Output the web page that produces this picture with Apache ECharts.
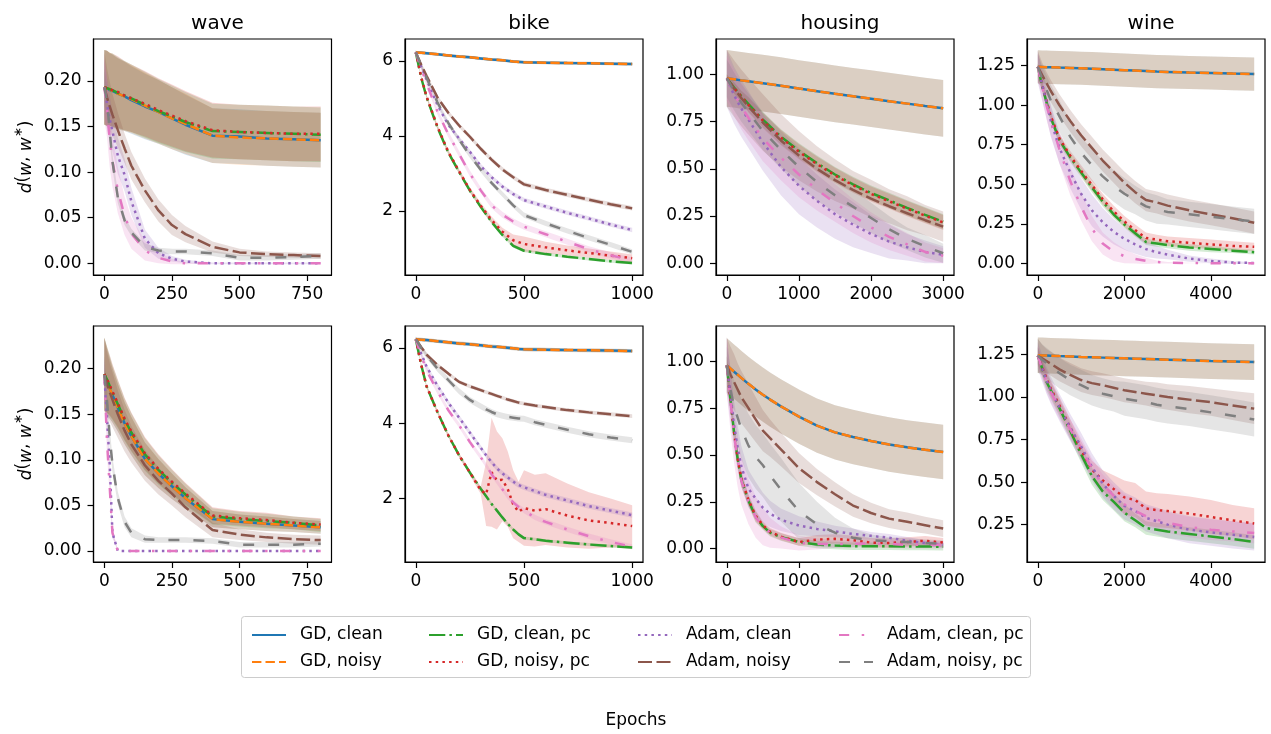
<!DOCTYPE html>
<html>
<head>
<meta charset="utf-8">
<script src="https://cdn.jsdelivr.net/npm/echarts@6.0.0/dist/echarts.min.js"></script>
<style>
html, body { margin: 0; background: #fff; }
#chart { width: 1271px; height: 734px; }
</style>
</head>
<body>
<div id="chart"></div>
<script>
// series order in every mean/sd table below
const seriesNames = ["GD, clean", "GD, noisy", "GD, clean, pc", "GD, noisy, pc",
    "Adam, clean", "Adam, noisy", "Adam, clean, pc", "Adam, noisy, pc"];
const panelTitles = ["wave", "bike", "housing", "wine"];

// ---- wave ----
const waveX = [0, 10, 20, 30, 50, 75, 100, 150, 200, 250, 300, 400, 500, 600, 700, 800];
const waveMeanTop = [
    [0.193, 0.192, 0.190, 0.189, 0.186, 0.183, 0.179, 0.172, 0.166, 0.159, 0.152, 0.140, 0.139, 0.137, 0.136, 0.135],
    [0.193, 0.192, 0.191, 0.189, 0.186, 0.183, 0.180, 0.173, 0.166, 0.159, 0.153, 0.140, 0.138, 0.137, 0.136, 0.135],
    [0.193, 0.192, 0.191, 0.190, 0.187, 0.184, 0.181, 0.174, 0.167, 0.161, 0.155, 0.145, 0.144, 0.143, 0.142, 0.141],
    [0.193, 0.192, 0.191, 0.190, 0.188, 0.184, 0.181, 0.175, 0.168, 0.162, 0.156, 0.146, 0.144, 0.143, 0.142, 0.142],
    [0.193, 0.175, 0.158, 0.145, 0.118, 0.097, 0.068, 0.027, 0.011, 0.005, 0.002, 0, 0, 0, 0, 0],
    [0.193, 0.182, 0.172, 0.163, 0.146, 0.126, 0.107, 0.080, 0.058, 0.042, 0.032, 0.018, 0.012, 0.010, 0.009, 0.008],
    [0.193, 0.170, 0.135, 0.112, 0.080, 0.052, 0.033, 0.014, 0.006, 0.002, 0, 0, 0, 0, 0, 0],
    [0.193, 0.178, 0.145, 0.112, 0.072, 0.047, 0.034, 0.018, 0.014, 0.013, 0.013, 0.011, 0.006, 0.006, 0.007, 0.008],
];
const waveSdTop = [
    [0.041, 0.041, 0.040, 0.040, 0.039, 0.038, 0.037, 0.036, 0.035, 0.034, 0.033, 0.030, 0.030, 0.030, 0.030, 0.030],
    [0.041, 0.041, 0.040, 0.040, 0.039, 0.038, 0.037, 0.036, 0.035, 0.034, 0.033, 0.030, 0.030, 0.030, 0.030, 0.030],
    [0.041, 0.041, 0.040, 0.040, 0.039, 0.038, 0.037, 0.036, 0.035, 0.034, 0.033, 0.030, 0.030, 0.030, 0.030, 0.030],
    [0.041, 0.041, 0.040, 0.040, 0.039, 0.038, 0.037, 0.036, 0.035, 0.034, 0.033, 0.030, 0.030, 0.030, 0.030, 0.030],
    [0.030, 0.028, 0.025, 0.022, 0.020, 0.018, 0.015, 0.010, 0.006, 0.003, 0.002, 0.001, 0.001, 0.001, 0.001, 0.001],
    [0.040, 0.032, 0.027, 0.023, 0.019, 0.016, 0.015, 0.013, 0.012, 0.011, 0.009, 0.006, 0.004, 0.003, 0.003, 0.003],
    [0.035, 0.032, 0.030, 0.028, 0.025, 0.021, 0.017, 0.011, 0.006, 0.003, 0.001, 0, 0, 0, 0, 0],
    [0.020, 0.015, 0.010, 0.008, 0.006, 0.005, 0.004, 0.004, 0.003, 0.003, 0.003, 0.003, 0.003, 0.003, 0.003, 0.003],
];
const waveMeanBottom = [
    [0.194, 0.186, 0.178, 0.171, 0.157, 0.140, 0.126, 0.101, 0.085, 0.071, 0.058, 0.035, 0.032, 0.030, 0.028, 0.026],
    [0.194, 0.186, 0.178, 0.171, 0.157, 0.140, 0.126, 0.101, 0.085, 0.071, 0.058, 0.035, 0.032, 0.030, 0.028, 0.026],
    [0.194, 0.188, 0.181, 0.174, 0.161, 0.144, 0.130, 0.106, 0.089, 0.075, 0.062, 0.038, 0.035, 0.033, 0.031, 0.028],
    [0.194, 0.188, 0.182, 0.175, 0.162, 0.145, 0.131, 0.107, 0.090, 0.076, 0.063, 0.039, 0.036, 0.034, 0.031, 0.029],
    [0.193, 0.145, 0.095, 0.020, 0, 0, 0, 0, 0, 0, 0, 0, 0, 0, 0, 0],
    [0.193, 0.183, 0.174, 0.166, 0.150, 0.132, 0.117, 0.094, 0.077, 0.063, 0.048, 0.023, 0.018, 0.015, 0.013, 0.012],
    [0.193, 0.120, 0.070, 0.020, 0, 0, 0, 0, 0, 0, 0, 0, 0, 0, 0, 0],
    [0.193, 0.165, 0.125, 0.095, 0.058, 0.032, 0.020, 0.013, 0.012, 0.012, 0.012, 0.011, 0.007, 0.007, 0.007, 0.008],
];
const waveSdBottom = [
    [0.040, 0.036, 0.033, 0.030, 0.026, 0.023, 0.021, 0.018, 0.016, 0.014, 0.012, 0.009, 0.008, 0.008, 0.007, 0.007],
    [0.040, 0.036, 0.033, 0.030, 0.026, 0.023, 0.021, 0.018, 0.016, 0.014, 0.012, 0.009, 0.008, 0.008, 0.007, 0.007],
    [0.040, 0.036, 0.033, 0.030, 0.026, 0.023, 0.021, 0.018, 0.016, 0.014, 0.012, 0.009, 0.008, 0.008, 0.007, 0.007],
    [0.040, 0.036, 0.033, 0.030, 0.026, 0.023, 0.021, 0.018, 0.016, 0.014, 0.012, 0.009, 0.008, 0.008, 0.007, 0.007],
    [0.020, 0.015, 0.010, 0.005, 0, 0, 0, 0, 0, 0, 0, 0, 0, 0, 0, 0],
    [0.040, 0.035, 0.032, 0.030, 0.026, 0.023, 0.020, 0.017, 0.015, 0.013, 0.011, 0.008, 0.006, 0.005, 0.005, 0.005],
    [0.020, 0.015, 0.010, 0.005, 0, 0, 0, 0, 0, 0, 0, 0, 0, 0, 0, 0],
    [0.020, 0.012, 0.010, 0.008, 0.007, 0.006, 0.005, 0.004, 0.003, 0.003, 0.003, 0.003, 0.003, 0.003, 0.003, 0.003],
];

// ---- bike ----
const bikeXTop = [0, 25, 50, 100, 150, 200, 250, 300, 350, 400, 450, 500, 600, 700, 800, 900, 1000];
const bikeMeanTop = [
    [6.23, 6.22, 6.21, 6.18, 6.15, 6.12, 6.10, 6.07, 6.04, 6.02, 5.99, 5.965, 5.955, 5.945, 5.94, 5.93, 5.92],
    [6.23, 6.22, 6.21, 6.18, 6.15, 6.12, 6.10, 6.07, 6.04, 6.02, 5.99, 5.965, 5.955, 5.945, 5.94, 5.93, 5.92],
    [6.23, 5.55, 5.03, 4.23, 3.56, 3.04, 2.54, 2.11, 1.71, 1.36, 1.07, 0.94, 0.85, 0.78, 0.72, 0.66, 0.61],
    [6.23, 5.57, 5.05, 4.25, 3.58, 3.06, 2.56, 2.14, 1.76, 1.45, 1.22, 1.12, 1.03, 0.95, 0.88, 0.81, 0.74],
    [6.23, 5.85, 5.50, 4.83, 4.30, 3.93, 3.58, 3.20, 2.90, 2.65, 2.45, 2.29, 2.12, 1.95, 1.80, 1.64, 1.49],
    [6.23, 5.90, 5.60, 5.03, 4.62, 4.28, 3.98, 3.66, 3.37, 3.11, 2.90, 2.71, 2.56, 2.43, 2.30, 2.18, 2.07],
    [6.23, 5.80, 5.40, 4.65, 4.05, 3.52, 3.00, 2.55, 2.15, 1.90, 1.72, 1.58, 1.38, 1.18, 0.98, 0.82, 0.68],
    [6.23, 5.88, 5.55, 4.90, 4.35, 3.90, 3.48, 3.10, 2.75, 2.45, 2.15, 1.89, 1.67, 1.47, 1.28, 1.10, 0.91],
];
const bikeSdTop = [
    [0.04, 0.04, 0.04, 0.04, 0.04, 0.04, 0.04, 0.04, 0.04, 0.04, 0.04, 0.04, 0.04, 0.04, 0.04, 0.04, 0.04],
    [0.04, 0.04, 0.04, 0.04, 0.04, 0.04, 0.04, 0.04, 0.04, 0.04, 0.04, 0.04, 0.04, 0.04, 0.04, 0.04, 0.04],
    [0.02, 0.03, 0.04, 0.05, 0.05, 0.05, 0.05, 0.05, 0.05, 0.05, 0.05, 0.04, 0.04, 0.04, 0.04, 0.04, 0.04],
    [0.02, 0.04, 0.05, 0.06, 0.06, 0.06, 0.07, 0.08, 0.09, 0.10, 0.15, 0.20, 0.15, 0.13, 0.12, 0.11, 0.10],
    [0.06, 0.06, 0.06, 0.06, 0.06, 0.06, 0.06, 0.06, 0.06, 0.06, 0.06, 0.06, 0.06, 0.06, 0.06, 0.06, 0.06],
    [0.06, 0.06, 0.06, 0.06, 0.06, 0.06, 0.06, 0.06, 0.06, 0.06, 0.06, 0.06, 0.06, 0.06, 0.06, 0.06, 0.06],
    [0.02, 0.05, 0.07, 0.08, 0.08, 0.08, 0.08, 0.08, 0.08, 0.08, 0.08, 0.08, 0.08, 0.08, 0.08, 0.08, 0.08],
    [0.07, 0.07, 0.07, 0.07, 0.07, 0.07, 0.07, 0.07, 0.07, 0.07, 0.07, 0.07, 0.07, 0.07, 0.07, 0.07, 0.07],
];
const bikeXBottom = [0, 25, 50, 100, 150, 200, 250, 300, 325, 350, 375, 400, 425, 450, 475, 500, 550, 600, 700, 800, 900, 1000];
const bikeMeanBottom = [
    [6.23, 6.22, 6.21, 6.18, 6.15, 6.12, 6.10, 6.07, 6.055, 6.04, 6.03, 6.02, 6.005, 5.99, 5.975, 5.965, 5.96, 5.955, 5.945, 5.94, 5.93, 5.92],
    [6.23, 6.22, 6.21, 6.18, 6.15, 6.12, 6.10, 6.07, 6.055, 6.04, 6.03, 6.02, 6.005, 5.99, 5.975, 5.965, 5.96, 5.955, 5.945, 5.94, 5.93, 5.92],
    [6.23, 5.55, 4.98, 4.30, 3.68, 3.15, 2.69, 2.26, 2.06, 1.86, 1.68, 1.50, 1.33, 1.18, 1.05, 0.95, 0.92, 0.88, 0.83, 0.78, 0.74, 0.70],
    [6.23, 5.55, 4.98, 4.30, 3.68, 3.15, 2.69, 2.22, 2.12, 2.70, 2.48, 2.50, 2.25, 1.85, 1.65, 1.75, 1.68, 1.72, 1.55, 1.42, 1.35, 1.27],
    [6.23, 5.85, 5.50, 5.00, 4.55, 4.15, 3.75, 3.35, 3.15, 2.97, 2.80, 2.67, 2.56, 2.45, 2.36, 2.30, 2.20, 2.10, 1.95, 1.80, 1.68, 1.56],
    [6.23, 6.02, 5.82, 5.55, 5.32, 5.10, 4.98, 4.88, 4.83, 4.78, 4.73, 4.68, 4.63, 4.59, 4.55, 4.52, 4.47, 4.43, 4.35, 4.29, 4.24, 4.19],
    [6.23, 5.80, 5.40, 4.85, 4.35, 3.95, 3.50, 3.10, 2.88, 2.65, 2.45, 2.25, 2.05, 1.90, 1.78, 1.68, 1.50, 1.38, 1.18, 1.00, 0.85, 0.72],
    [6.23, 6.00, 5.80, 5.45, 5.15, 4.85, 4.62, 4.45, 4.37, 4.30, 4.24, 4.20, 4.17, 4.15, 4.13, 4.12, 4.03, 3.96, 3.83, 3.71, 3.62, 3.55],
];
const bikeSdBottom = [
    [0.05, 0.05, 0.05, 0.05, 0.05, 0.05, 0.05, 0.05, 0.05, 0.05, 0.05, 0.05, 0.05, 0.05, 0.05, 0.05, 0.05, 0.05, 0.05, 0.05, 0.05, 0.05],
    [0.05, 0.05, 0.05, 0.05, 0.05, 0.05, 0.05, 0.05, 0.05, 0.05, 0.05, 0.05, 0.05, 0.05, 0.05, 0.05, 0.05, 0.05, 0.05, 0.05, 0.05, 0.05],
    [0.04, 0.04, 0.04, 0.04, 0.04, 0.04, 0.04, 0.04, 0.04, 0.04, 0.04, 0.04, 0.04, 0.04, 0.04, 0.04, 0.04, 0.04, 0.04, 0.04, 0.04, 0.04],
    [0.02, 0.03, 0.04, 0.05, 0.05, 0.06, 0.07, 0.10, 0.85, 1.45, 1.30, 1.10, 1.00, 0.90, 0.80, 1.00, 0.95, 0.95, 0.85, 0.75, 0.65, 0.55],
    [0.07, 0.07, 0.07, 0.07, 0.07, 0.07, 0.07, 0.07, 0.07, 0.07, 0.07, 0.07, 0.07, 0.07, 0.07, 0.07, 0.07, 0.07, 0.07, 0.07, 0.07, 0.07],
    [0.05, 0.05, 0.05, 0.05, 0.05, 0.05, 0.05, 0.05, 0.05, 0.05, 0.05, 0.05, 0.05, 0.05, 0.05, 0.05, 0.05, 0.05, 0.05, 0.05, 0.05, 0.05],
    [0.07, 0.07, 0.07, 0.07, 0.07, 0.07, 0.07, 0.07, 0.07, 0.07, 0.07, 0.07, 0.07, 0.07, 0.07, 0.07, 0.07, 0.07, 0.07, 0.07, 0.07, 0.07],
    [0.08, 0.08, 0.08, 0.08, 0.08, 0.08, 0.08, 0.08, 0.08, 0.08, 0.08, 0.08, 0.08, 0.08, 0.08, 0.08, 0.08, 0.08, 0.08, 0.08, 0.08, 0.08],
];

// ---- housing ----
const housingXTop = [0, 100, 200, 300, 500, 750, 1000, 1250, 1500, 1750, 2000, 2250, 2500, 2750, 3000];
const housingMeanTop = [
    [0.979, 0.974, 0.968, 0.963, 0.953, 0.940, 0.925, 0.911, 0.897, 0.884, 0.871, 0.858, 0.845, 0.832, 0.820],
    [0.979, 0.974, 0.968, 0.963, 0.953, 0.940, 0.925, 0.911, 0.897, 0.884, 0.871, 0.858, 0.845, 0.832, 0.820],
    [0.979, 0.930, 0.885, 0.842, 0.760, 0.670, 0.595, 0.530, 0.470, 0.418, 0.372, 0.333, 0.293, 0.256, 0.220],
    [0.979, 0.928, 0.882, 0.838, 0.755, 0.665, 0.590, 0.525, 0.465, 0.413, 0.367, 0.328, 0.289, 0.252, 0.216],
    [0.979, 0.890, 0.820, 0.760, 0.640, 0.510, 0.410, 0.330, 0.260, 0.205, 0.155, 0.115, 0.085, 0.060, 0.045],
    [0.979, 0.925, 0.875, 0.830, 0.745, 0.650, 0.570, 0.500, 0.440, 0.388, 0.342, 0.302, 0.265, 0.228, 0.194],
    [0.979, 0.900, 0.830, 0.770, 0.660, 0.560, 0.470, 0.390, 0.320, 0.250, 0.190, 0.140, 0.100, 0.060, 0.040],
    [0.979, 0.910, 0.850, 0.800, 0.700, 0.600, 0.510, 0.430, 0.360, 0.300, 0.240, 0.180, 0.130, 0.090, 0.053],
];
const housingSdTop = [
    [0.15, 0.15, 0.15, 0.15, 0.15, 0.15, 0.15, 0.15, 0.15, 0.15, 0.15, 0.15, 0.15, 0.15, 0.15],
    [0.15, 0.15, 0.15, 0.15, 0.15, 0.15, 0.15, 0.15, 0.15, 0.15, 0.15, 0.15, 0.15, 0.15, 0.15],
    [0.02, 0.03, 0.03, 0.04, 0.04, 0.04, 0.04, 0.04, 0.04, 0.04, 0.04, 0.04, 0.04, 0.04, 0.04],
    [0.02, 0.03, 0.03, 0.04, 0.04, 0.04, 0.04, 0.04, 0.04, 0.04, 0.04, 0.04, 0.04, 0.04, 0.04],
    [0.15, 0.15, 0.15, 0.15, 0.15, 0.15, 0.15, 0.14, 0.13, 0.12, 0.10, 0.09, 0.07, 0.06, 0.045],
    [0.15, 0.15, 0.15, 0.15, 0.15, 0.14, 0.13, 0.12, 0.11, 0.10, 0.10, 0.09, 0.09, 0.08, 0.08],
    [0.12, 0.12, 0.12, 0.12, 0.12, 0.12, 0.12, 0.11, 0.10, 0.09, 0.08, 0.07, 0.06, 0.05, 0.04],
    [0.10, 0.10, 0.10, 0.10, 0.10, 0.10, 0.10, 0.10, 0.09, 0.09, 0.08, 0.07, 0.06, 0.06, 0.05],
];
const housingXBottom = [0, 50, 100, 150, 200, 300, 400, 500, 600, 750, 1000, 1250, 1500, 1750, 2000, 2250, 2500, 2750, 3000];
const housingMeanBottom = [
    [0.979, 0.962, 0.945, 0.929, 0.912, 0.880, 0.850, 0.822, 0.796, 0.760, 0.705, 0.657, 0.621, 0.596, 0.575, 0.556, 0.541, 0.528, 0.516],
    [0.979, 0.962, 0.945, 0.929, 0.912, 0.880, 0.850, 0.822, 0.796, 0.760, 0.705, 0.657, 0.621, 0.596, 0.575, 0.556, 0.541, 0.528, 0.516],
    [0.979, 0.800, 0.620, 0.480, 0.370, 0.255, 0.170, 0.120, 0.085, 0.062, 0.035, 0.022, 0.016, 0.013, 0.012, 0.012, 0.011, 0.011, 0.010],
    [0.979, 0.800, 0.625, 0.485, 0.375, 0.260, 0.175, 0.125, 0.090, 0.064, 0.035, 0.048, 0.052, 0.045, 0.032, 0.030, 0.035, 0.042, 0.032],
    [0.979, 0.820, 0.660, 0.540, 0.440, 0.320, 0.267, 0.218, 0.186, 0.154, 0.123, 0.105, 0.092, 0.078, 0.068, 0.058, 0.042, 0.030, 0.020],
    [0.979, 0.930, 0.890, 0.850, 0.810, 0.750, 0.690, 0.630, 0.590, 0.530, 0.430, 0.355, 0.290, 0.230, 0.190, 0.160, 0.143, 0.125, 0.107],
    [0.979, 0.790, 0.610, 0.470, 0.365, 0.250, 0.168, 0.118, 0.085, 0.060, 0.030, 0.025, 0.025, 0.025, 0.028, 0.025, 0.020, 0.020, 0.020],
    [0.979, 0.850, 0.760, 0.700, 0.640, 0.550, 0.490, 0.445, 0.390, 0.315, 0.200, 0.130, 0.085, 0.058, 0.045, 0.040, 0.035, 0.030, 0.025],
];
const housingSdBottom = [
    [0.145, 0.145, 0.145, 0.145, 0.145, 0.145, 0.145, 0.145, 0.145, 0.145, 0.145, 0.145, 0.145, 0.145, 0.145, 0.145, 0.145, 0.145, 0.145],
    [0.145, 0.145, 0.145, 0.145, 0.145, 0.145, 0.145, 0.145, 0.145, 0.145, 0.145, 0.145, 0.145, 0.145, 0.145, 0.145, 0.145, 0.145, 0.145],
    [0.05, 0.05, 0.05, 0.05, 0.04, 0.03, 0.03, 0.02, 0.02, 0.02, 0.02, 0.02, 0.02, 0.02, 0.02, 0.02, 0.02, 0.02, 0.02],
    [0.05, 0.05, 0.05, 0.05, 0.04, 0.03, 0.03, 0.02, 0.02, 0.02, 0.02, 0.025, 0.025, 0.025, 0.025, 0.025, 0.025, 0.025, 0.025],
    [0.15, 0.14, 0.13, 0.12, 0.11, 0.10, 0.09, 0.08, 0.07, 0.06, 0.05, 0.04, 0.03, 0.03, 0.02, 0.02, 0.02, 0.015, 0.015],
    [0.15, 0.15, 0.15, 0.14, 0.14, 0.13, 0.12, 0.11, 0.10, 0.09, 0.08, 0.07, 0.065, 0.06, 0.055, 0.05, 0.05, 0.045, 0.045],
    [0.15, 0.16, 0.15, 0.14, 0.13, 0.12, 0.11, 0.10, 0.08, 0.06, 0.04, 0.03, 0.02, 0.02, 0.02, 0.02, 0.02, 0.02, 0.02],
    [0.10, 0.12, 0.14, 0.15, 0.16, 0.17, 0.17, 0.17, 0.17, 0.17, 0.15, 0.12, 0.08, 0.05, 0.03, 0.02, 0.02, 0.02, 0.02],
];

// ---- wine ----
const wineX = [0, 100, 200, 300, 500, 750, 1000, 1250, 1500, 1750, 2000, 2250, 2500, 2750, 3000, 3500, 4000, 4500, 5000];
const wineMeanTop = [
    [1.243, 1.242, 1.241, 1.240, 1.238, 1.236, 1.234, 1.231, 1.228, 1.225, 1.222, 1.219, 1.216, 1.213, 1.211, 1.207, 1.204, 1.200, 1.197],
    [1.243, 1.242, 1.241, 1.240, 1.238, 1.236, 1.234, 1.231, 1.228, 1.225, 1.222, 1.219, 1.216, 1.213, 1.211, 1.207, 1.204, 1.200, 1.197],
    [1.243, 1.120, 1.020, 0.920, 0.780, 0.670, 0.575, 0.480, 0.390, 0.310, 0.245, 0.190, 0.135, 0.125, 0.115, 0.100, 0.090, 0.080, 0.070],
    [1.243, 1.130, 1.030, 0.930, 0.790, 0.680, 0.585, 0.495, 0.405, 0.330, 0.265, 0.210, 0.160, 0.150, 0.140, 0.130, 0.120, 0.110, 0.105],
    [1.243, 1.130, 1.020, 0.900, 0.730, 0.575, 0.440, 0.335, 0.260, 0.200, 0.155, 0.120, 0.090, 0.070, 0.055, 0.030, 0.015, 0.005, 0.002],
    [1.243, 1.190, 1.140, 1.090, 1.000, 0.900, 0.810, 0.730, 0.650, 0.580, 0.510, 0.450, 0.400, 0.385, 0.365, 0.335, 0.310, 0.285, 0.257],
    [1.243, 1.120, 1.000, 0.900, 0.720, 0.520, 0.360, 0.220, 0.125, 0.075, 0.045, 0.028, 0.015, 0.008, 0.004, 0.002, 0, 0, 0],
    [1.243, 1.170, 1.100, 1.030, 0.930, 0.800, 0.700, 0.620, 0.550, 0.490, 0.440, 0.400, 0.360, 0.340, 0.325, 0.310, 0.295, 0.280, 0.265],
];
const wineSdTop = [
    [0.105, 0.105, 0.105, 0.105, 0.105, 0.105, 0.105, 0.105, 0.105, 0.105, 0.105, 0.105, 0.105, 0.105, 0.105, 0.105, 0.105, 0.105, 0.105],
    [0.105, 0.105, 0.105, 0.105, 0.105, 0.105, 0.105, 0.105, 0.105, 0.105, 0.105, 0.105, 0.105, 0.105, 0.105, 0.105, 0.105, 0.105, 0.105],
    [0.02, 0.03, 0.03, 0.03, 0.03, 0.03, 0.03, 0.03, 0.03, 0.025, 0.02, 0.02, 0.02, 0.02, 0.02, 0.02, 0.02, 0.015, 0.015],
    [0.02, 0.03, 0.03, 0.03, 0.03, 0.03, 0.035, 0.035, 0.035, 0.035, 0.035, 0.035, 0.035, 0.03, 0.03, 0.03, 0.03, 0.03, 0.025],
    [0.10, 0.10, 0.10, 0.10, 0.10, 0.10, 0.10, 0.10, 0.09, 0.08, 0.07, 0.06, 0.05, 0.04, 0.03, 0.02, 0.015, 0.01, 0.005],
    [0.10, 0.08, 0.07, 0.07, 0.07, 0.07, 0.07, 0.07, 0.07, 0.07, 0.07, 0.07, 0.07, 0.07, 0.07, 0.07, 0.07, 0.07, 0.07],
    [0.08, 0.08, 0.09, 0.09, 0.09, 0.09, 0.09, 0.08, 0.07, 0.06, 0.045, 0.03, 0.02, 0.01, 0.005, 0.002, 0, 0, 0],
    [0.08, 0.08, 0.09, 0.10, 0.10, 0.10, 0.10, 0.10, 0.10, 0.10, 0.10, 0.09, 0.09, 0.09, 0.08, 0.08, 0.08, 0.08, 0.08],
];
const wineMeanBottom = [
    [1.246, 1.245, 1.244, 1.243, 1.241, 1.239, 1.236, 1.234, 1.232, 1.230, 1.228, 1.226, 1.224, 1.222, 1.220, 1.216, 1.212, 1.209, 1.206],
    [1.246, 1.245, 1.244, 1.243, 1.241, 1.239, 1.236, 1.234, 1.232, 1.230, 1.228, 1.226, 1.224, 1.222, 1.220, 1.216, 1.212, 1.209, 1.206],
    [1.243, 1.170, 1.090, 1.040, 0.935, 0.800, 0.665, 0.535, 0.445, 0.385, 0.320, 0.275, 0.230, 0.220, 0.210, 0.195, 0.180, 0.165, 0.148],
    [1.243, 1.175, 1.110, 1.050, 0.950, 0.820, 0.690, 0.575, 0.510, 0.460, 0.410, 0.395, 0.345, 0.335, 0.330, 0.315, 0.295, 0.275, 0.256],
    [1.243, 1.170, 1.100, 1.040, 0.940, 0.820, 0.710, 0.590, 0.490, 0.420, 0.360, 0.330, 0.290, 0.270, 0.250, 0.220, 0.205, 0.190, 0.177],
    [1.243, 1.228, 1.212, 1.196, 1.163, 1.130, 1.100, 1.082, 1.070, 1.055, 1.040, 1.030, 1.020, 1.010, 1.000, 0.985, 0.970, 0.950, 0.932],
    [1.243, 1.165, 1.090, 1.030, 0.930, 0.810, 0.700, 0.580, 0.485, 0.420, 0.370, 0.330, 0.300, 0.280, 0.260, 0.235, 0.220, 0.210, 0.200],
    [1.243, 1.220, 1.200, 1.180, 1.140, 1.100, 1.070, 1.040, 1.020, 1.005, 0.990, 0.980, 0.970, 0.955, 0.945, 0.930, 0.910, 0.890, 0.868],
];
const wineSdBottom = [
    [0.105, 0.105, 0.105, 0.105, 0.105, 0.105, 0.105, 0.105, 0.105, 0.105, 0.105, 0.105, 0.105, 0.105, 0.105, 0.105, 0.105, 0.105, 0.105],
    [0.105, 0.105, 0.105, 0.105, 0.105, 0.105, 0.105, 0.105, 0.105, 0.105, 0.105, 0.105, 0.105, 0.105, 0.105, 0.105, 0.105, 0.105, 0.105],
    [0.05, 0.05, 0.05, 0.05, 0.05, 0.05, 0.05, 0.05, 0.05, 0.05, 0.05, 0.04, 0.04, 0.04, 0.04, 0.04, 0.04, 0.04, 0.04],
    [0.05, 0.05, 0.05, 0.05, 0.05, 0.05, 0.05, 0.05, 0.06, 0.08, 0.10, 0.10, 0.10, 0.10, 0.10, 0.10, 0.10, 0.09, 0.09],
    [0.08, 0.08, 0.08, 0.08, 0.08, 0.08, 0.08, 0.08, 0.08, 0.08, 0.08, 0.08, 0.08, 0.08, 0.08, 0.08, 0.08, 0.08, 0.08],
    [0.10, 0.08, 0.07, 0.07, 0.07, 0.07, 0.07, 0.07, 0.07, 0.07, 0.07, 0.07, 0.07, 0.075, 0.075, 0.08, 0.08, 0.085, 0.09],
    [0.06, 0.06, 0.06, 0.06, 0.06, 0.06, 0.06, 0.06, 0.06, 0.06, 0.06, 0.06, 0.06, 0.06, 0.06, 0.06, 0.06, 0.06, 0.06],
    [0.10, 0.09, 0.09, 0.09, 0.09, 0.09, 0.09, 0.09, 0.09, 0.09, 0.10, 0.10, 0.10, 0.10, 0.10, 0.10, 0.10, 0.10, 0.10],
];

// tick values and axis limits
const waveXTicks = [0, 250, 500, 750];
const bikeXTicks = [0, 500, 1000];
const housingXTicks = [0, 1000, 2000, 3000];
const wineXTicks = [0, 2000, 4000];
const waveYTicks = [0, 0.05, 0.1, 0.15, 0.2];
const bikeYTicks = [2, 4, 6];
const housingYTicks = [0, 0.25, 0.5, 0.75, 1];
const wineYTicksTop = [0, 0.25, 0.5, 0.75, 1, 1.25];
const wineYTicksBottom = [0.25, 0.5, 0.75, 1, 1.25];
const xLimits = [[-40, 840], [-50, 1050], [-150, 3150], [-250, 5250]];
const yLimitsTop = [[-0.0128, 0.246], [0.293, 6.587], [-0.062, 1.187], [-0.074, 1.419]];
const yLimitsBottom = [[-0.012, 0.2467], [0.316, 6.584], [-0.0716, 1.189], [0.03, 1.418]];

const colors = ["#1f77b4", "#ff7f0e", "#2ca02c", "#d62728", "#9467bd", "#8c564b", "#e377c2", "#7f7f7f"];
const dashes = ["solid", [9.4, 4.1], [16.3, 4.1, 2.5, 4.1], [2.5, 4.2], [2.5, 4.2], [14, 4.5], [10.2, 12.5, 2.5, 12.5], [11, 14]];
const FONT = "DejaVu Sans";

const panels = [
    { x: waveX, mean: waveMeanTop, sd: waveSdTop, xt: waveXTicks, yt: waveYTicks, yl: yLimitsTop[0], dec: 2 },
    { x: bikeXTop, mean: bikeMeanTop, sd: bikeSdTop, xt: bikeXTicks, yt: bikeYTicks, yl: yLimitsTop[1], dec: 0 },
    { x: housingXTop, mean: housingMeanTop, sd: housingSdTop, xt: housingXTicks, yt: housingYTicks, yl: yLimitsTop[2], dec: 2 },
    { x: wineX, mean: wineMeanTop, sd: wineSdTop, xt: wineXTicks, yt: wineYTicksTop, yl: yLimitsTop[3], dec: 2 },
    { x: waveX, mean: waveMeanBottom, sd: waveSdBottom, xt: waveXTicks, yt: waveYTicks, yl: yLimitsBottom[0], dec: 2 },
    { x: bikeXBottom, mean: bikeMeanBottom, sd: bikeSdBottom, xt: bikeXTicks, yt: bikeYTicks, yl: yLimitsBottom[1], dec: 0 },
    { x: housingXBottom, mean: housingMeanBottom, sd: housingSdBottom, xt: housingXTicks, yt: housingYTicks, yl: yLimitsBottom[2], dec: 2 },
    { x: wineX, mean: wineMeanBottom, sd: wineSdBottom, xt: wineXTicks, yt: wineYTicksBottom, yl: yLimitsBottom[3], dec: 2 },
];

const colLeft = [93.5, 405, 716, 1027];
const rowTop = [39, 326];
const W = 238, H = 236;

const myChart = echarts.init(document.getElementById("chart"));

const grids = [], xAxes = [], yAxes = [], bands = [], lines = [];
const labelStyle = { color: "#000", fontSize: 17, fontFamily: FONT };

panels.forEach((p, i) => {
    const col = i % 4, row = Math.floor(i / 4);
    grids.push({
        left: colLeft[col], top: rowTop[row], width: W, height: H,
        show: true, borderColor: "#000", borderWidth: 1.2, backgroundColor: "transparent",
        containLabel: false, outerBoundsMode: "none",
    });
    xAxes.push({
        gridIndex: i, type: "value", min: xLimits[col][0], max: xLimits[col][1],
        axisLine: { show: true, onZero: false, lineStyle: { color: "#000", width: 1.2 } },
        axisTick: { show: true, length: 6, lineStyle: { color: "#000", width: 1.2 }, customValues: p.xt },
        axisLabel: { ...labelStyle, margin: 11, customValues: p.xt, formatter: (v) => String(v) },
        splitLine: { show: false },
    });
    yAxes.push({
        gridIndex: i, type: "value", min: p.yl[0], max: p.yl[1],
        axisLine: { show: true, onZero: false, lineStyle: { color: "#000", width: 1.2 } },
        axisTick: { show: true, length: 6, lineStyle: { color: "#000", width: 1.2 }, customValues: p.yt },
        axisLabel: { ...labelStyle, margin: 12, customValues: p.yt, formatter: (v) => v.toFixed(p.dec) },
        splitLine: { show: false },
    });
    p.mean.forEach((m, s) => {
        const sd = p.sd[s];
        bands.push({
            type: "custom", xAxisIndex: i, yAxisIndex: i, clip: true, silent: true, z: 1,
            data: p.x.map((xv, k) => [xv, m[k] - sd[k], m[k] + sd[k]]),
            encode: { x: 0, y: [1, 2] },
            renderItem: (params, api) => {
                if (params.dataIndex !== 0) return null;
                const up = p.x.map((xv, k) => api.coord([xv, m[k] + sd[k]]));
                const lo = p.x.map((xv, k) => api.coord([xv, m[k] - sd[k]])).reverse();
                return {
                    type: "polygon",
                    shape: { points: up.concat(lo) },
                    style: { fill: colors[s], opacity: 0.2 },
                };
            },
        });
        lines.push({
            type: "line", name: seriesNames[s], xAxisIndex: i, yAxisIndex: i,
            data: p.x.map((xv, k) => [xv, m[k]]),
            symbol: "none", showSymbol: false, silent: true, z: 3,
            lineStyle: { color: colors[s], width: 2.5, type: dashes[s] },
            itemStyle: { color: colors[s] },
        });
    });
});

// legend, 4 columns of 2 (matplotlib fills column-wise)
const legendIconLeft = [251, 428, 637, 838];
const legends = legendIconLeft.map((left, c) => ({
    orient: "vertical", left: left, top: 626.5, padding: 0,
    itemWidth: 34, itemHeight: 17, itemGap: 10,
    selectedMode: false,
    data: [seriesNames[2 * c], seriesNames[2 * c + 1]],
    itemStyle: { opacity: 0 },
    textStyle: { ...labelStyle, padding: [0, 0, 0, 9] },
}));

const titles = panelTitles.map((t, c) => ({
    text: t, left: colLeft[c] + W / 2, top: 9, textAlign: "center",
    textStyle: { fontSize: 20, fontWeight: "normal", fontFamily: FONT, color: "#000" },
}));

const yLabel = (y) => ({
    type: "text", x: 24, y: y, rotation: Math.PI / 2,
    style: {
        text: "{i|d}({i|w}, {i|w}{s|∗}{n|)}",
        align: "center", verticalAlign: "middle",
        fontSize: 17, fontFamily: FONT, fill: "#000",
        rich: {
            i: { fontStyle: "italic", fontSize: 17, fontFamily: FONT, lineHeight: 22, verticalAlign: "bottom" },
            n: { fontSize: 17, fontFamily: FONT, lineHeight: 22, verticalAlign: "bottom" },
            s: { fontSize: 12, fontFamily: FONT, lineHeight: 12, verticalAlign: "top" },
        },
    },
});

option = {
    animation: false,
    backgroundColor: "#fff",
    title: titles,
    grid: grids,
    xAxis: xAxes,
    yAxis: yAxes,
    legend: legends,
    series: bands.concat(lines),
    graphic: [
        {
            type: "rect", z: 0,
            shape: { x: 241.5, y: 616.5, width: 789, height: 61, r: 3 },
            style: { fill: "#fff", stroke: "#cccccc", lineWidth: 1 },
        },
        yLabel(157),
        yLabel(444),
        {
            type: "text", x: 636, y: 721,
            style: { text: "Epochs", fontSize: 17, fontFamily: FONT, fill: "#000", align: "center", verticalAlign: "middle" },
        },
    ],
};
option && myChart.setOption(option);
</script>
</body>
</html>
